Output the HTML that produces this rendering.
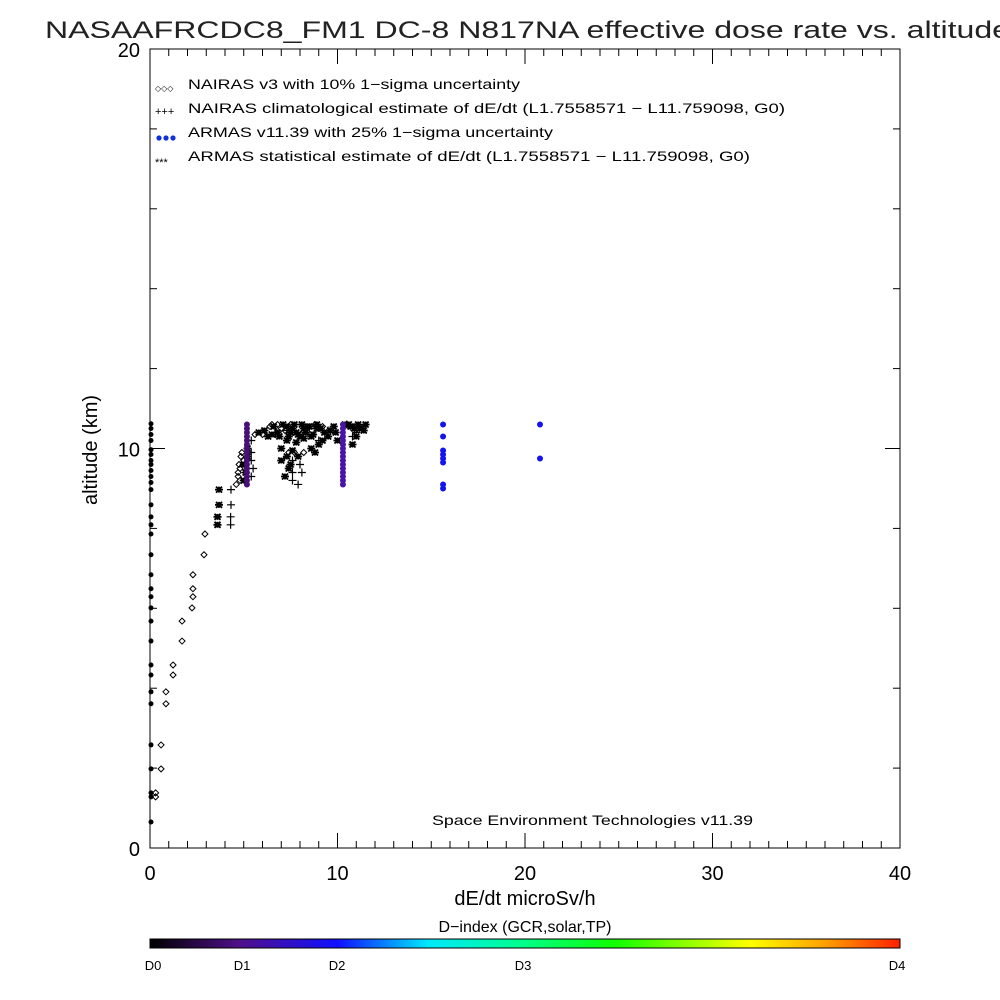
<!DOCTYPE html>
<html><head><meta charset="utf-8"><style>
html,body{margin:0;padding:0;background:#fff;}
svg{display:block;font-family:"Liberation Sans",sans-serif;}
</style></head><body>
<svg id="chart" width="1000" height="1000" viewBox="0 0 1000 1000">
<defs>
<linearGradient id="dgrad" x1="0" x2="1" y1="0" y2="0">
<stop offset="0" stop-color="#000000"/><stop offset="0.12" stop-color="#50108a"/><stop offset="0.25" stop-color="#1010ff"/>
<stop offset="0.37" stop-color="#00e8ff"/><stop offset="0.5" stop-color="#00ff88"/><stop offset="0.62" stop-color="#10ff00"/>
<stop offset="0.8" stop-color="#ffff00"/><stop offset="0.9" stop-color="#ffa000"/><stop offset="1" stop-color="#ff2000"/>
</linearGradient>
</defs>
<text x="45" y="38" font-size="24" textLength="965" lengthAdjust="spacingAndGlyphs" fill="#222">NASAAFRCDC8_FM1 DC-8   N817NA effective dose rate vs. altitude</text>
<rect x="150" y="49" width="750" height="799" fill="none" stroke="#000" stroke-width="1"/>
<g id="axes"></g>
<g id="marks"></g>
<g font-size="14">
<text x="155" y="91" font-size="8">◇◇◇</text>
<text x="188" y="89" textLength="332" lengthAdjust="spacingAndGlyphs">NAIRAS v3 with 10% 1−sigma uncertainty</text>
<text x="155" y="115" font-size="11">+++</text>
<text x="188" y="113" textLength="597" lengthAdjust="spacingAndGlyphs">NAIRAS climatological estimate of dE/dt (L1.7558571 − L11.759098, G0)</text>
<g fill="#1030e0"><circle cx="159" cy="138" r="2.6"/><circle cx="166" cy="138" r="2.6"/><circle cx="173" cy="138" r="2.6"/></g>
<text x="188" y="137" textLength="365" lengthAdjust="spacingAndGlyphs">ARMAS v11.39 with 25% 1−sigma uncertainty</text>
<text x="155" y="166" font-size="11">***</text>
<text x="188" y="161" textLength="562" lengthAdjust="spacingAndGlyphs">ARMAS statistical estimate of dE/dt (L1.7558571 − L11.759098, G0)</text>
</g>
<text x="432" y="825" font-size="14" textLength="321" lengthAdjust="spacingAndGlyphs">Space Environment Technologies v11.39</text>
<text x="525" y="905" font-size="20" text-anchor="middle">dE/dt microSv/h</text>
<text x="97" y="450" font-size="20" text-anchor="middle" transform="rotate(-90 97 450)">altitude (km)</text>
<text x="525" y="932" font-size="16" text-anchor="middle">D−index (GCR,solar,TP)</text>
<rect x="150" y="939" width="750" height="9" fill="url(#dgrad)" stroke="#000" stroke-width="1"/>
<g font-size="13" text-anchor="middle">
<text x="153" y="970">D0</text>
<text x="242" y="970">D1</text>
<text x="337" y="970">D2</text>
<text x="523" y="970">D3</text>
<text x="897" y="970">D4</text>
</g>
</svg>
<script>
const xTicks=[0,10,20,30,40];
const yTicks=[0,10,20];
const zeroAlt=[10.62,10.5,10.35,10.2,9.97,9.85,9.7,9.6,9.45,9.3,9.15,8.97,8.59,8.29,8.09,7.86,7.34,6.84,6.49,6.29,6.01,5.68,5.18,4.58,4.33,3.91,3.61,2.58,1.98,1.38,1.28,0.65];
const nairasDose=[2.93,2.88,2.29,2.29,2.29,2.24,1.71,1.71,1.23,1.23,0.85,0.85,0.59,0.59,0.3,0.3,4.8,4.7,4.8,4.9,5.0,4.6,6.4,5.6,6.0,7.7,8.2,7.0,7.5,6.8,7.2,8.8,9.2,4.7,4.75,4.85,6.5,6.7,7.4];
const nairasAlt=[7.86,7.34,6.84,6.49,6.29,6.01,5.68,5.18,4.58,4.33,3.91,3.61,2.58,1.98,1.38,1.28,9.5,9.3,9.2,9.9,9.7,9.1,10.55,10.35,10.35,9.9,9.9,10.5,10.6,10.6,10.45,10.6,10.55,9.4,9.6,9.8,10.6,10.35,9.9];
const climDose=[4.32,4.32,4.3,4.3,5.4,5.4,5.4,5.5,5.4,7.6,7.6,7.6,8.0,8.1,7.9,9.0,10.5,11.0,10.8,9.5,8.5,11.2,10.9,6.7,7.3];
const climAlt=[8.97,8.59,8.29,8.09,10.2,9.9,9.7,9.5,9.3,9.7,9.4,9.2,9.6,9.4,9.1,10.2,10.6,10.4,10.3,10.45,10.5,10.55,10.45,10.4,10.45];
const statDose=[3.68,3.68,3.6,3.6,5.0,5.1,5.0,5.2,5.2,7.0,7.3,7.4,7.2,7.8,8.2,8.6,9.0,9.5,11.2,11.0,9.8,6.8,6.3,10.8,8.8,10.0,6.6,7.1,7.6,8.4,9.3,10.6,11.4,6.1,5.8,6.5,7.9,8.9,7.3,7.7,8.1,8.5,8.9,7.5,8.3,9.1,10.7,11.1,11.5,10.9,6.9,7.4,8.0,8.7,9.6,10.4,10.8,11.3,9.9,7.0,7.9,7.5,8.6,7.3,7.8,9.2,7.6,8.2];
const statAlt=[8.97,8.59,8.29,8.09,9.2,9.4,9.6,9.8,10.0,10.0,9.8,9.5,9.3,10.4,10.5,10.3,10.1,10.3,10.5,10.3,10.55,10.4,10.3,10.1,9.9,10.2,10.55,10.6,10.5,10.55,10.4,10.6,10.45,10.45,10.4,10.35,10.35,10.6,10.55,10.6,10.6,10.55,10.5,10.4,10.4,10.5,10.55,10.6,10.6,10.5,10.3,10.3,10.3,10.35,10.45,10.6,10.55,10.5,10.4,9.7,9.8,9.6,10.0,10.2,10.15,10.2,9.95,10.25];
const armasDose=[5.17,5.17,5.17,5.17,5.17,5.17,5.17,5.17,5.17,5.17,5.17,5.17,5.17,5.17,5.17,5.17,10.29,10.29,10.29,10.29,10.29,10.29,10.29,10.29,10.29,10.29,10.29,10.29,10.29,10.29,10.29,10.29,15.63,15.63,15.63,15.63,15.63,15.63,15.63,15.63,20.8,20.8];
const armasAlt=[10.6,10.5,10.4,10.3,10.2,10.1,10.0,9.9,9.8,9.7,9.6,9.5,9.4,9.3,9.2,9.1,10.6,10.5,10.4,10.3,10.2,10.1,10.0,9.9,9.8,9.7,9.6,9.5,9.4,9.3,9.2,9.1,10.6,10.3,9.95,9.85,9.75,9.65,9.1,9.0,10.6,9.75];
const armasD=[1.1,1.1,1.1,1.1,1.1,1.1,1.1,1.1,1.1,1.1,1.1,1.1,1.1,1.1,1.1,1.1,1.6,1.6,1.6,1.6,1.6,1.6,1.6,1.6,1.6,1.6,1.6,1.6,1.6,1.6,1.6,1.6,2,2,2,2,2,2,2,2,2,2];

const X0=150,X1=900,Y0=848,Y1=49;
function sx(v){return X0+(v/40)*(X1-X0);}
function sy(v){return Y0-(v/20)*(Y0-Y1);}
const NS='http://www.w3.org/2000/svg';
const axes=document.getElementById('axes');
const marks=document.getElementById('marks');
function mk(tag,attrs,parent){const e=document.createElementNS(NS,tag);for(const k in attrs)e.setAttribute(k,attrs[k]);parent.appendChild(e);return e;}
function ln(x1,y1,x2,y2){const l=mk('line',{x1:x1,y1:y1,x2:x2,y2:y2,stroke:'#000','stroke-width':1},axes);

}
for(let v=0;v<=40;v+=1){const x=sx(v);const L=(v%10===0)?15:7;ln(x,Y0,x,Y0-L);ln(x,Y1,x,Y1+L);}
for(let v=0;v<=20;v+=2){const y=sy(v);const L=(v%10===0)?15:7;ln(X0,y,X0+L,y);ln(X1,y,X1-L,y);}
xTicks.forEach(v=>{const t=mk('text',{x:sx(v),y:880,'font-size':20,'text-anchor':'middle'},axes);t.textContent=v;

});
yTicks.forEach(v=>{const t=mk('text',{x:140,y:sy(v)+8,'font-size':20,'text-anchor':'end'},axes);t.textContent=v;

});
function dcol(d){const stops=[[0,[0,0,0]],[1,[70,14,110]],[1.6,[75,20,165]],[2,[20,20,240]],[3,[0,255,136]],[4,[255,32,0]]];
for(let i=1;i<stops.length;i++){if(d<=stops[i][0]){const a=stops[i-1],b=stops[i];const t=(d-a[0])/(b[0]-a[0]);return 'rgb('+a[1].map((c,j)=>Math.round(c+(b[1][j]-c)*t)).join(',')+')';}}return 'rgb(255,32,0)';}
zeroAlt.forEach(a=>{const c=mk('circle',{cx:sx(0)+1,cy:sy(a),r:2.5,fill:'#000'},marks);

});
nairasDose.forEach((d,i)=>{const x=sx(d),y=sy(nairasAlt[i]);const p=mk('polygon',{points:`${x},${y-3} ${x+3},${y} ${x},${y+3} ${x-3},${y}`,fill:'none',stroke:'#000','stroke-width':1},marks);

});
climDose.forEach((d,i)=>{const x=sx(d),y=sy(climAlt[i]);const p=mk('path',{d:`M${x-4},${y}H${x+4}M${x},${y-4}V${y+4}`,stroke:'#000','stroke-width':1.2},marks);

});
statDose.forEach((d,i)=>{const x=sx(d),y=sy(statAlt[i]);const p=mk('path',{d:`M${x-4},${y}H${x+4}M${x},${y-3}V${y+3}M${x-3},${y-3}L${x+3},${y+3}M${x-3},${y+3}L${x+3},${y-3}`,stroke:'#000','stroke-width':1.8},marks);

});
armasDose.forEach((d,i)=>{const c=mk('circle',{cx:sx(d),cy:sy(armasAlt[i]),r:3,fill:dcol(armasD[i])},marks);

});
</script>
</body></html>
